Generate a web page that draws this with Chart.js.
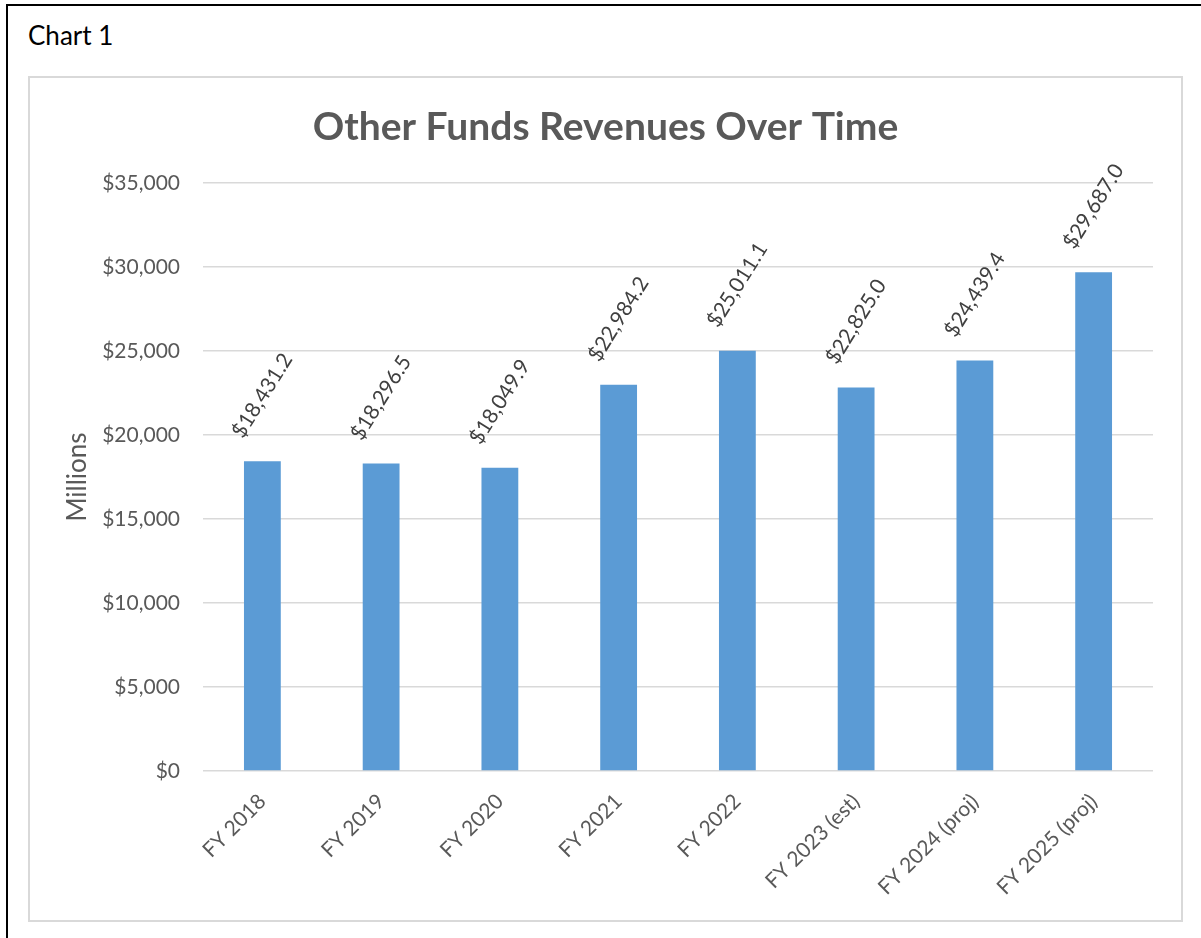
<!DOCTYPE html>
<html>
<head>
<meta charset="utf-8">
<script src="https://cdn.jsdelivr.net/npm/chart.js@4"></script>
<style>
  html, body { margin: 0; padding: 0; background: #fff; }
  body { width: 1201px; height: 938px; position: relative; overflow: hidden; font-family: Lato, "Open Sans", sans-serif; }
  .frame { position: absolute; left: 6px; top: 4px; width: 1300px; height: 1000px; border-left: 2px solid #000; border-top: 2px solid #000; }
  .caption { position: absolute; left: 28px; top: 19px; font-size: 26px; color: #000; }
  .box { position: absolute; left: 28px; top: 76px; width: 1151px; height: 842px; border: 2px solid #d9d9d9; }
  canvas { display: block; }
</style>
</head>
<body>
<div class="frame"></div>
<div class="caption">Chart 1</div>
<div class="box"><canvas id="chart" width="1151" height="842"></canvas></div>
<script>
const categories = ['FY 2018', 'FY 2019', 'FY 2020', 'FY 2021', 'FY 2022', 'FY 2023 (est)', 'FY 2024 (proj)', 'FY 2025 (proj)'];
const revenues = [18431.2, 18296.5, 18049.9, 22984.2, 25011.1, 22825.0, 24439.4, 29687.0];
const yTicks = [0, 5000, 10000, 15000, 20000, 25000, 30000, 35000];

const money = (v, d) => '$' + v.toLocaleString('en-US', { minimumFractionDigits: d, maximumFractionDigits: d });

// rotated value labels above each bar
const barLabels = {
    id: 'barLabels',
    afterDatasetsDraw(chart) {
        const ctx = chart.ctx;
        const meta = chart.getDatasetMeta(0);
        const angle = 58 * Math.PI / 180;
        const size = 21;
        ctx.save();
        ctx.font = size + 'px Lato, "Open Sans", sans-serif';
        ctx.fillStyle = '#404040';
        ctx.textAlign = 'center';
        ctx.textBaseline = 'middle';
        meta.data.forEach((bar, i) => {
            const txt = money(revenues[i], 1);
            const w = ctx.measureText(txt).width;
            const off = 20 + (w / 2) * Math.sin(angle) + (size / 2) * Math.cos(angle);
            ctx.save();
            ctx.translate(bar.x, bar.y - off);
            ctx.rotate(-angle);
            ctx.fillText(txt, 0, 0);
            ctx.restore();
        });
        ctx.restore();
    }
};

new Chart(document.getElementById('chart').getContext('2d'), {
    type: 'bar',
    data: {
        labels: categories,
        datasets: [{
            label: 'Revenues',
            data: revenues,
            backgroundColor: '#5b9bd5',
            borderWidth: 0,
            categoryPercentage: 1,
            barPercentage: 0.31,
        }],
    },
    options: {
        responsive: false,
        animation: false,
        layout: { padding: { left: 28, right: 28, top: 0, bottom: 0 } },
        plugins: {
            legend: { display: false },
            tooltip: { enabled: false },
            title: {
                display: true,
                text: 'Other Funds Revenues Over Time',
                color: '#595959',
                font: { family: 'Lato', size: 39, weight: 'bold', lineHeight: 1.2 },
                padding: { top: 26, bottom: 32.2 },
            },
        },
        scales: {
            x: {
                grid: { display: false },
                border: { display: false },
                ticks: {
                    color: '#595959',
                    font: { family: 'Lato', size: 21 },
                    maxRotation: 45,
                    minRotation: 45,
                    autoSkip: false,
                    padding: 10,
                },
                afterFit(scale) { scale.height = 149; },
            },
            y: {
                min: 0,
                max: 35000,
                afterBuildTicks(scale) { scale.ticks = yTicks.map(v => ({ value: v })); },
                grid: { color: '#d9d9d9', lineWidth: 1.5, drawTicks: false },
                border: { display: false },
                ticks: {
                    color: '#595959',
                    font: { family: 'Lato', size: 21 },
                    padding: 23,
                    callback: (v) => money(v, 0),
                },
                title: {
                    display: true,
                    text: 'Millions',
                    color: '#595959',
                    font: { family: 'Lato', size: 26 },
                    padding: { top: 4, bottom: 0 },
                },
                afterFit(scale) { scale.width = 145; },
            },
        },
    },
    plugins: [barLabels],
});
</script>
</body>
</html>
